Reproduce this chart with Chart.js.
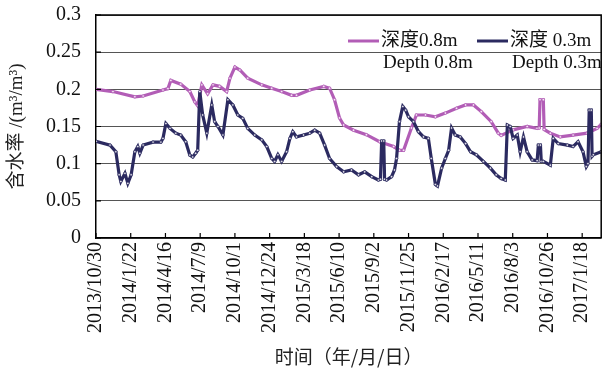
<!DOCTYPE html>
<html>
<head>
<meta charset="utf-8">
<script src="https://cdn.jsdelivr.net/npm/chart.js@4.4.1/dist/chart.umd.min.js"></script>
<style>
  html, body { margin: 0; padding: 0; background: #fff; }
  #wrap { width: 606px; height: 370px; }
</style>
</head>
<body>
<div id="wrap"><canvas id="c" width="606" height="370"></canvas></div>
<script>
// Tick dates along the time axis (one every 84 days from 2013/10/30)
const tickLabels = ['2013/10/30', '2014/1/22', '2014/4/16', '2014/7/9', '2014/10/1', '2014/12/24',
  '2015/3/18', '2015/6/10', '2015/9/2', '2015/11/25', '2016/2/17', '2016/5/11', '2016/8/3',
  '2016/10/26', '2017/1/18'];
const tickStepDays = 84;
const lastDay = 1222;

// Soil moisture at 0.8 m depth: day offset from 2013/10/30 and value (m3/m3)
const depth08Days = [0, 41, 94, 114, 162, 174, 181, 205, 227, 239, 246, 256, 270, 283, 299, 316, 324,
  336, 348, 367, 401, 425, 449, 473, 485, 517, 551, 565, 577, 589, 599, 623, 654, 686, 720, 734, 744,
  763, 775, 797, 821, 845, 872, 894, 913, 932, 956, 973, 980, 1009, 1043, 1067, 1072, 1074, 1082, 1084,
  1099, 1123, 1154, 1188, 1212, 1222];
const depth08Values = [0.200, 0.197, 0.190, 0.191, 0.199, 0.201, 0.212, 0.207, 0.197, 0.183, 0.178,
  0.206, 0.194, 0.206, 0.204, 0.197, 0.215, 0.230, 0.226, 0.215, 0.206, 0.2015, 0.197, 0.192, 0.192,
  0.199, 0.204, 0.2015, 0.186, 0.1615, 0.152, 0.145, 0.139, 0.1296, 0.123, 0.118, 0.118, 0.148, 0.1655,
  0.1655, 0.163, 0.168, 0.1745, 0.179, 0.179, 0.170, 0.1565, 0.141, 0.138, 0.1455, 0.150, 0.1475,
  0.148, 0.186, 0.186, 0.146, 0.141, 0.136, 0.1385, 0.141, 0.1475, 0.153];

// Soil moisture at 0.3 m depth
const depth03Days = [0, 34, 48, 56, 60, 70, 77, 85, 94, 101, 106, 114, 138, 157, 162, 169, 179, 193,
  205, 217, 227, 234, 241, 246, 251, 258, 268, 280, 287, 295, 307, 319, 331, 343, 355, 367, 384, 401,
  413, 425, 432, 440, 449, 461, 469, 476, 485, 502, 517, 529, 541, 553, 565, 582, 599, 618, 635, 650,
  667, 683, 688, 691, 696, 698, 703, 715, 722, 727, 734, 742, 749, 756, 768, 780, 792, 804, 811, 821,
  826, 836, 845, 853, 860, 869, 881, 894, 906, 920, 937, 954, 968, 980, 990, 995, 1002, 1009, 1019,
  1026, 1034, 1043, 1055, 1067, 1070, 1075, 1077, 1082, 1099, 1106, 1118, 1140, 1154, 1166, 1178,
  1186, 1190, 1193, 1198, 1200, 1203, 1222];
const depth03Values = [0.130, 0.125, 0.116, 0.085, 0.076, 0.087, 0.0735, 0.085, 0.116, 0.123, 0.114,
  0.125, 0.129, 0.129, 0.134, 0.154, 0.1475, 0.141, 0.1385, 0.1295, 0.1115, 0.109, 0.114, 0.118, 0.197,
  0.1655, 0.141, 0.179, 0.1565, 0.150, 0.1385, 0.186, 0.179, 0.1655, 0.161, 0.1475, 0.1385, 0.132,
  0.123, 0.107, 0.103, 0.112, 0.103, 0.116, 0.134, 0.143, 0.136, 0.1385, 0.141, 0.145, 0.141, 0.125,
  0.107, 0.096, 0.089, 0.0915, 0.085, 0.089, 0.0825, 0.078, 0.079, 0.1305, 0.1305, 0.079, 0.078,
  0.0825, 0.0915, 0.107, 0.1565, 0.177, 0.172, 0.163, 0.1565, 0.143, 0.136, 0.134, 0.107, 0.072, 0.070,
  0.094, 0.107, 0.118, 0.148, 0.1385, 0.136, 0.127, 0.116, 0.112, 0.103, 0.094, 0.085, 0.080, 0.078,
  0.152, 0.150, 0.134, 0.1385, 0.116, 0.136, 0.116, 0.105, 0.104, 0.125, 0.125, 0.103, 0.103, 0.098,
  0.134, 0.127, 0.125, 0.123, 0.1295, 0.116, 0.096, 0.100, 0.172, 0.172, 0.110, 0.112, 0.116];

const seriesNames = ['深度0.8m', '深度 0.3m'];
const seriesNamesEn = ['Depth 0.8m', 'Depth 0.3m'];
const seriesColors = ['#b25db6', '#2b2a60'];

const toPoints = (days, values) => days.map((d, i) => ({ x: d, y: values[i] }));

const serif = '"Liberation Serif", "Times New Roman", "Noto Sans CJK SC", serif';
const mixed = '"Liberation Serif", "Noto Sans CJK SC", serif';

// Frame, inward tick marks and the two-line legend
const decorations = {
  id: 'decorations',
  afterDraw(chart) {
    const { ctx, chartArea: a, scales } = chart;
    ctx.save();
    ctx.strokeStyle = '#000';
    ctx.lineWidth = 1.5;
    ctx.beginPath();
    ctx.moveTo(a.left, a.top); ctx.lineTo(a.right, a.top); ctx.lineTo(a.right, a.bottom);
    ctx.stroke();

    ctx.lineWidth = 1.2;
    ctx.beginPath();
    scales.x.ticks.forEach(t => {
      const x = scales.x.getPixelForValue(t.value);
      ctx.moveTo(x, a.bottom); ctx.lineTo(x, a.bottom - 5);
    });
    scales.y.ticks.forEach(t => {
      const y = scales.y.getPixelForValue(t.value);
      ctx.moveTo(a.left, y); ctx.lineTo(a.left + 5, y);
    });
    ctx.stroke();

    const startX = [a.left + 252, a.left + 381];
    const rowY = [a.top + 26, a.top + 48];
    ctx.font = '19px ' + mixed;
    ctx.fillStyle = '#111';
    ctx.textBaseline = 'middle';
    ctx.textAlign = 'left';
    chart.data.datasets.forEach((ds, i) => {
      ctx.strokeStyle = ds.borderColor;
      ctx.lineWidth = 3;
      ctx.beginPath();
      ctx.moveTo(startX[i], rowY[0]); ctx.lineTo(startX[i] + 31, rowY[0]);
      ctx.stroke();
      ctx.fillText(seriesNames[i], startX[i] + 33, rowY[0]);
      ctx.fillText(seriesNamesEn[i], startX[i] + 35, rowY[1]);
    });
    ctx.restore();
  }
};

const lineStyle = (color) => ({
  borderColor: color,
  borderWidth: 3.2,
  pointRadius: 1.3,
  pointBorderWidth: 0.8,
  pointBorderColor: color,
  pointBackgroundColor: 'rgba(255,255,255,0.85)',
  tension: 0
});

new Chart(document.getElementById('c'), {
  type: 'line',
  data: {
    datasets: [
      { label: seriesNames[0], data: toPoints(depth08Days, depth08Values), ...lineStyle(seriesColors[0]), order: 1 },
      { label: seriesNames[1], data: toPoints(depth03Days, depth03Values), ...lineStyle(seriesColors[1]), order: 0 }
    ]
  },
  options: {
    responsive: false,
    animation: false,
    devicePixelRatio: 1,
    layout: { padding: { top: 15, right: 3, left: 0, bottom: 0 } },
    plugins: { legend: { display: false }, tooltip: { enabled: false } },
    scales: {
      x: {
        type: 'linear',
        min: 0,
        max: lastDay,
        afterBuildTicks(scale) {
          scale.ticks = tickLabels.map((_, i) => ({ value: i * tickStepDays }));
        },
        afterFit(scale) {
          scale.height = 132;
          scale.paddingLeft = 0;
          scale.paddingRight = 0;
        },
        grid: { display: false, drawTicks: false },
        border: { display: true, color: '#000', width: 1.5 },
        ticks: {
          autoSkip: false,
          minRotation: 90,
          maxRotation: 90,
          padding: 4,
          color: '#111',
          font: { family: serif, size: 20 },
          callback: (v) => tickLabels[Math.round(v / tickStepDays)]
        },
        title: {
          display: true,
          text: '时间（年/月/日）',
          color: '#222',
          font: { family: '"Noto Sans CJK SC", sans-serif', size: 19 },
          padding: { top: 0, bottom: 2 }
        }
      },
      y: {
        min: 0,
        max: 0.3,
        afterFit(scale) {
          scale.width = 96;
          scale.paddingTop = 0;
          scale.paddingBottom = 0;
        },
        grid: { color: '#555', lineWidth: 1, drawTicks: false },
        border: { display: true, color: '#000', width: 1.5 },
        ticks: {
          stepSize: 0.05,
          padding: 15,
          color: '#111',
          font: { family: serif, size: 20 },
          callback: (v) => String(parseFloat(v.toFixed(2)))
        },
        title: {
          display: true,
          text: '含水率 /(m³/m³)',
          color: '#222',
          font: { family: mixed, size: 19 },
          padding: { top: 6, bottom: 0 }
        }
      }
    }
  },
  plugins: [decorations]
});
</script>
</body>
</html>
